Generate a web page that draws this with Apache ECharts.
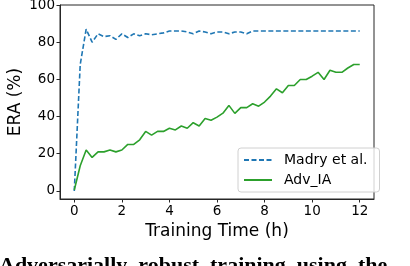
<!DOCTYPE html>
<html>
<head>
<meta charset="utf-8">
<script src="https://cdn.jsdelivr.net/npm/echarts@6/dist/echarts.min.js"></script>
<style>
html,body{margin:0;padding:0;background:#fff;}
#c{width:410px;height:266px;}
</style>
</head>
<body>
<div id="c"></div>
<script>
var hours = [0,0.25,0.5,0.75,1,1.25,1.5,1.75,2,2.25,2.5,2.75,3,3.25,3.5,3.75,4,4.25,4.5,4.75,5,5.25,5.5,5.75,6,6.25,6.5,6.75,7,7.25,7.5,7.75,8,8.25,8.5,8.75,9,9.25,9.5,9.75,10,10.25,10.5,10.75,11,11.25,11.5,11.75,12];
var madry = [0,68,87,80,84.5,83,83.5,81.5,84.5,82.5,84.5,83.5,84.5,84,84.5,85,86,86,86,85.5,84.5,86,85.5,84.5,85.5,85.5,84.5,85.5,85.5,84.5,86,86,86,86,86,86,86,86,86,86,86,86,86,86,86,86,86,86,86];
var advIA = [0.5,13.5,22,18,21,21,22,21,22,25,25,27.5,32,30,32,32,33.7,32.8,34.9,33.7,36.7,34.9,38.9,38,39.7,41.8,46,41.7,44.8,44.8,46.9,45.6,47.8,51,54.9,52.8,56.7,56.7,59.9,59.9,61.7,63.8,59.9,64.9,63.8,63.8,66.1,68,68];
var xTicks = [0,2,4,6,8,10,12];
var yTicks = [0,20,40,60,80,100];
var seriesNames = ['Madry et al.','Adv_IA'];
var caption = 'Adversarially  robust  training  using  the';

function pairs(v){ return hours.map(function(h,i){ return [h, v[i]]; }); }

var chart = echarts.init(document.getElementById('c'), null, {renderer:'canvas'});
var font = 'DejaVu Sans';
chart.setOption({
  animation:false,
  grid:{left:60,right:36,top:5,bottom:67,containLabel:false,outerBoundsMode:'none',show:true,borderColor:'#262626',borderWidth:1,backgroundColor:'transparent'},
  xAxis:{
    type:'value',min:-0.6,max:12.6,
    name:'Training Time (h)',nameLocation:'middle',nameGap:22,
    nameTextStyle:{fontFamily:font,fontSize:17,color:'#000'},
    axisLine:{show:true,onZero:false,lineStyle:{color:'#262626',width:1}},
    axisTick:{show:true,length:3.5,customValues:xTicks,lineStyle:{color:'#262626'}},
    axisLabel:{customValues:xTicks,fontFamily:font,fontSize:13.5,color:'#000',margin:5},
    splitLine:{show:false}
  },
  yAxis:{
    type:'value',min:-4.35,max:100,
    name:'ERA (%)',nameLocation:'middle',nameGap:36,nameRotate:90,nameMoveOverlap:false,
    nameTextStyle:{fontFamily:font,fontSize:17,color:'#000'},
    axisLine:{show:true,onZero:false,lineStyle:{color:'#262626',width:1}},
    axisTick:{show:true,length:3.5,customValues:yTicks,lineStyle:{color:'#262626'}},
    axisLabel:{customValues:yTicks,fontFamily:font,fontSize:13.5,color:'#000',margin:5},
    splitLine:{show:false}
  },
  legend:{
    orient:'vertical',left:238,top:148,
    padding:[5,12,5,5],itemGap:6,itemWidth:28,itemHeight:14,
    backgroundColor:'rgba(255,255,255,0.8)',borderColor:'#d0d0d0',borderWidth:1,borderRadius:3,
    itemStyle:{opacity:0},
    textStyle:{fontFamily:font,fontSize:14,color:'#000',padding:[0,0,0,7]},
    data:seriesNames
  },
  series:[
    {name:seriesNames[0],type:'line',data:pairs(madry),symbol:'none',
     lineStyle:{color:'#1f77b4',width:1.6,type:[5,2.5]},itemStyle:{color:'#1f77b4'}},
    {name:seriesNames[1],type:'line',data:pairs(advIA),symbol:'none',
     lineStyle:{color:'#2ca02c',width:1.6},itemStyle:{color:'#2ca02c'}}
  ],
  graphic:[{type:'text',left:-1,top:255,style:{text:caption,fontFamily:'Liberation Serif',fontWeight:'bold',fontSize:22,fill:'#000'}}]
});
</script>
</body>
</html>
